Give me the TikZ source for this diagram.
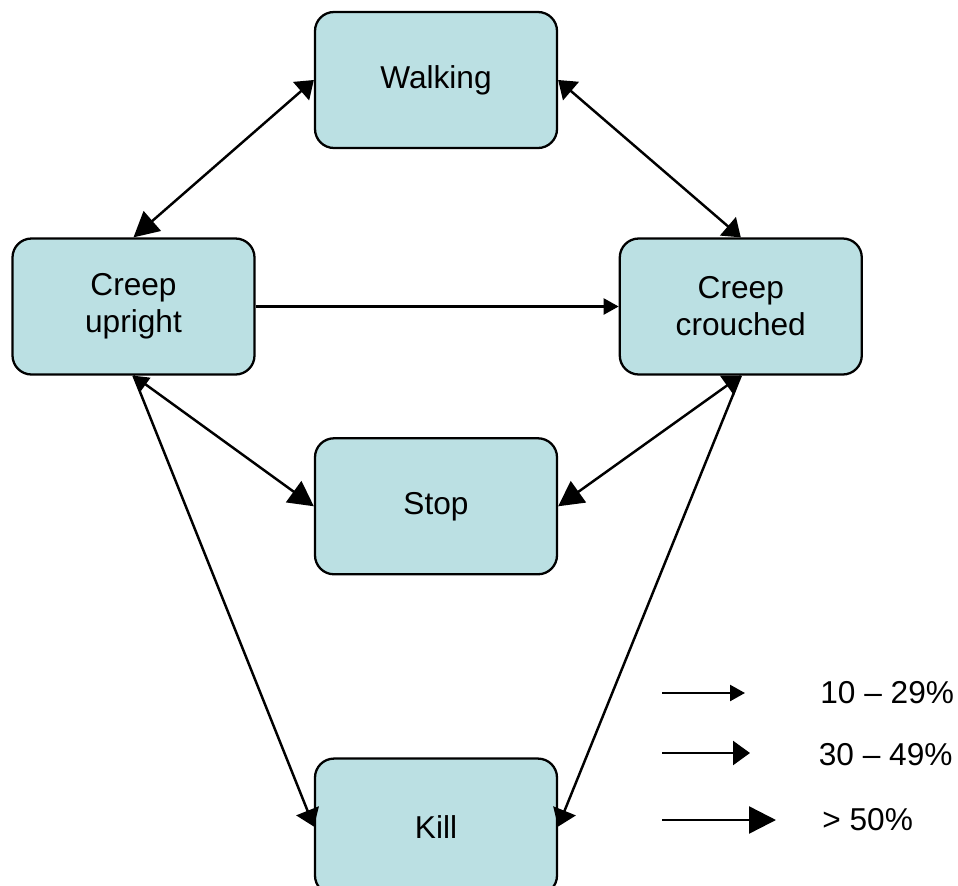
\documentclass[tikz,border=0pt]{standalone}
\usepackage{fontspec}
\setmainfont{Liberation Sans}
\usetikzlibrary{%
    arrows.meta,
    positioning
}
\definecolor{statefill}{HTML}{BBE0E3}
\tikzset{
    state/.style = {draw, line width=1.3pt, fill=statefill, rounded corners=0.38cm,
        minimum width=4.84cm, minimum height=2.72cm, align=center,
        font=\fontsize{18}{21}\selectfont},
    LowTip/.tip = {Triangle[length=0.3cm,width=0.32cm]},
    MidTip/.tip = {Triangle[length=0.34cm,width=0.48cm]},
    HighTip/.tip = {Triangle[length=0.5cm,width=0.52cm]},
    link/.style = {line width=1.4pt},
    keytext/.style = {anchor=west, inner sep=0pt, font=\fontsize{18}{21}\selectfont}
}

\begin{document}
\begin{tikzpicture}
    \useasboundingbox (0,0) rectangle (19.16,-17.72);

    \node[state] (walking) at (8.72,-1.6) {Walking};
    \node[state] (upright) at (2.67,-6.13) {Creep\\upright};
    \node[state] (crouched) [right=7.26cm of upright] {Creep\\crouched};
    \node[state] (stop) [below=5.76cm of walking] {Stop};
    \node[state] (kill) [below=3.64cm of stop] {Kill};

    \draw[link,MidTip-HighTip] (walking.west) -- (upright.north);
    \draw[link,MidTip-MidTip] (walking.east) -- (crouched.north);
    \draw[link,-LowTip] (upright.east) -- (crouched.west);
    \draw[link,LowTip-HighTip] (upright.south) -- (stop.west);
    \draw[link,MidTip-HighTip] (crouched.south) -- (stop.east);
    \draw[link,-MidTip] (upright.south) -- (kill.west);
    \draw[link,-MidTip] (crouched.south) -- (kill.east);

    % key
    \coordinate (key1-start) at (13.24,-13.86);
    \coordinate (key1-end) at (14.9,-13.86);
    \coordinate (key2-start) at (13.24,-15.06);
    \coordinate (key2-end) at (15.0,-15.06);
    \coordinate (key3-start) at (13.24,-16.4);
    \coordinate (key3-end) at (15.52,-16.4);
    \node[keytext] (key1) at (16.4,-13.86) {10 -- 29\%};
    \node[keytext] (key2) at (16.37,-15.1) {30 -- 49\%};
    \node[keytext] (key3) at (16.44,-16.4) {> 50\%};
    \draw[link,-LowTip] (key1-start) -- (key1-end);
    \draw[link,-MidTip] (key2-start) -- (key2-end);
    \draw[link,-{Triangle[length=0.54cm,width=0.54cm]}] (key3-start) -- (key3-end);
\end{tikzpicture}
\end{document}
